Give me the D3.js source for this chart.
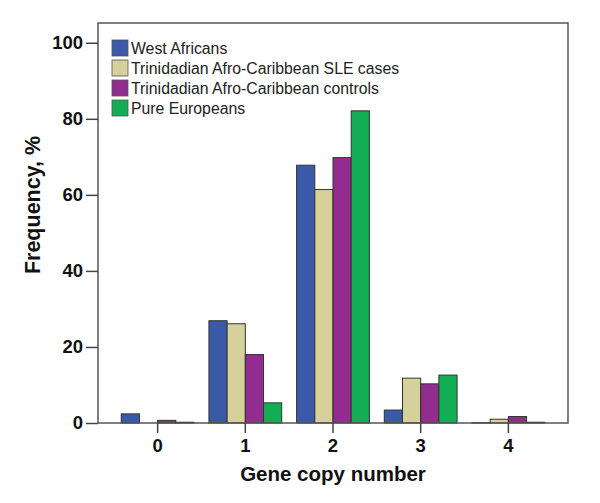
<html>
<head>
  <title></title>
  <style type="text/css">
    body{margin:0;background:#fff;}
    text{font-family:"Liberation Sans", Arial, sans-serif;}
  </style>
</head>
<body>
<div id='graph-container'></div>
<script src="https://d3js.org/d3.v7.min.js"></script>
<script type="text/javascript">

// gene copy numbers on the x axis
var copyNumbers = ['0', '1', '2', '3', '4']
var seriesNames = [
  'West Africans',
  'Trinidadian Afro-Caribbean SLE cases',
  'Trinidadian Afro-Caribbean controls',
  'Pure Europeans'
]
// frequency (%) per copy number, one array per series
var westAfricans = [2.4, 26.9, 67.8, 3.4, 0.1]
var sleCases = [0, 26.1, 61.4, 11.8, 1.0]
var controls = [0.7, 18.0, 69.8, 10.3, 1.7]
var europeans = [0.2, 5.3, 82.1, 12.6, 0.2]
var yTicks = [0, 20, 40, 60, 80, 100]
var colors = ['#3a5aa9', '#d6d09a', '#922c8f', '#13ad56']

var allSeries = [westAfricans, sleCases, controls, europeans]

var width = 600
var height = 503
var plot = {left: 98, right: 568, top: 23, bottom: 423}

var svg = d3.select('#graph-container').append('svg')
  .attr('width', width)
  .attr('height', height)

var xScale = d3.scaleBand()
  .domain(copyNumbers)
  .range([plot.left, plot.right])
  .paddingInner(0.17)
  .paddingOuter(0.265)
var xInner = d3.scaleBand()
  .domain(d3.range(seriesNames.length))
  .range([0, xScale.bandwidth()])
var yScale = d3.scaleLinear().domain([0, 105.2]).range([plot.bottom, plot.top])

// bars
var groups = svg.selectAll('g.group')
  .data(copyNumbers)
  .enter()
  .append('g')
  .attr('class', 'group')
  .attr('transform', (d)=>`translate(${xScale(d)},0)`)
groups.selectAll('rect')
  .data((d, i)=>allSeries.map((s, k)=>({k:k, v:s[i]})))
  .enter()
  .append('rect')
  .attr('x', (d)=>xInner(d.k))
  .attr('width', xInner.bandwidth())
  .attr('y', (d)=>yScale(d.v))
  .attr('height', (d)=>yScale(0)-yScale(d.v))
  .attr('fill', (d)=>colors[d.k])
  .attr('stroke', '#333')
  .attr('stroke-width', 1)

// frame
svg.append('rect')
  .attr('x', plot.left)
  .attr('y', plot.top)
  .attr('width', plot.right-plot.left)
  .attr('height', plot.bottom-plot.top)
  .attr('fill', 'none')
  .attr('stroke', '#555')
  .attr('stroke-width', 1.5)

// y axis
var yAxis = svg.append('g')
  .attr('transform', `translate(${plot.left},0)`)
  .call(d3.axisLeft(yScale).tickValues(yTicks).tickSize(12).tickPadding(3))
yAxis.select('.domain').remove()
yAxis.selectAll('line').attr('stroke', '#444').attr('stroke-width', 1.5)
yAxis.selectAll('text')
  .attr('font-size', 18.5)
  .attr('font-weight', 'bold')
  .attr('fill', '#111')
  .style('font-family', '"Liberation Sans", Arial, sans-serif')

// x axis
var xAxis = svg.append('g')
  .attr('transform', `translate(0,${plot.bottom})`)
  .call(d3.axisBottom(xScale).tickSize(10).tickPadding(6))
xAxis.select('.domain').remove()
xAxis.selectAll('line').attr('stroke', '#444').attr('stroke-width', 1.5)
xAxis.selectAll('text')
  .attr('font-size', 18.5)
  .attr('font-weight', 'bold')
  .attr('fill', '#111')
  .style('font-family', '"Liberation Sans", Arial, sans-serif')

// axis titles
svg.append('text')
  .attr('x', (plot.left+plot.right)/2)
  .attr('y', 481)
  .attr('text-anchor', 'middle')
  .attr('font-size', 20.5)
  .attr('font-weight', 'bold')
  .attr('fill', '#111')
  .text('Gene copy number')
svg.append('text')
  .attr('transform', 'translate(40,205) rotate(-90)')
  .attr('text-anchor', 'middle')
  .attr('font-size', 21.5)
  .attr('font-weight', 'bold')
  .attr('fill', '#111')
  .text('Frequency, %')

// legend
var legend = svg.selectAll('g.legend')
  .data(seriesNames)
  .enter()
  .append('g')
  .attr('class', 'legend')
  .attr('transform', (d, i)=>`translate(112,${40+i*20})`)
legend.append('rect')
  .attr('width', 16)
  .attr('height', 16)
  .attr('fill', (d, i)=>colors[i])
  .attr('stroke', '#555')
  .attr('stroke-width', 0.8)
legend.append('text')
  .attr('x', 19)
  .attr('y', 14)
  .attr('font-size', 15.8)
  .attr('fill', '#222')
  .text((d)=>d)

</script>
</body>
</html>
